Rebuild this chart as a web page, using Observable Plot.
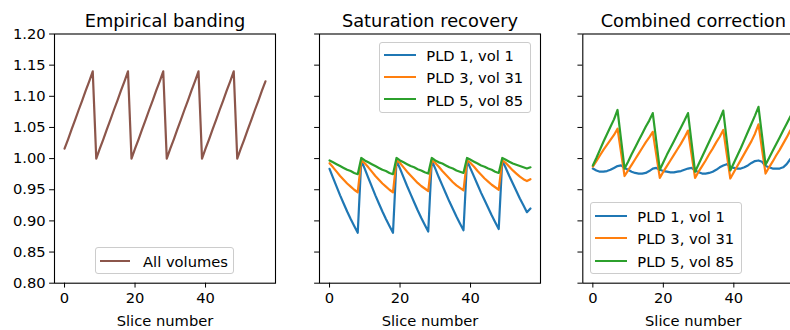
<!DOCTYPE html>
<html>
<head>
<meta charset="utf-8">
<script src="https://cdn.jsdelivr.net/npm/d3@7"></script>
<script src="https://cdn.jsdelivr.net/npm/@observablehq/plot@0.6"></script>
<style>
  html, body { margin: 0; padding: 0; background: #fff; }
  #root { position: relative; width: 790px; height: 330px; overflow: hidden; background: #fff; font-family: "DejaVu Sans", sans-serif; }
  .panel { position: absolute; top: 0; }
  .legend { position: absolute; box-sizing: border-box; border: 1px solid rgb(204,204,204); border-radius: 3px; background: rgba(255,255,255,0.8); }
  .lg-line { position: absolute; height: 2.2px; }
  .lg-text { position: absolute; font-size: 14.7px; line-height: 17px; color: #000; white-space: nowrap; }
</style>
</head>
<body>
<div id="root"></div>
<script>
// ---------- data ----------
const slices = [0,1,2,3,4,5,6,7,8,9,10,11,12,13,14,15,16,17,18,19,20,21,22,23,24,25,26,27,28,29,
  30,31,32,33,34,35,36,37,38,39,40,41,42,43,44,45,46,47,48,49,50,51,52,53,54,55,56,57];

const titles = ["Empirical banding", "Saturation recovery", "Combined correction"];
const xLabel = "Slice number";
const xTicks = [0, 20, 40];
const yTicks = [0.80, 0.85, 0.90, 0.95, 1.00, 1.05, 1.10, 1.15, 1.20];

const seriesNames = ["PLD 1, vol 1", "PLD 3, vol 31", "PLD 5, vol 85"];
const bandingName = "All volumes";

// Panel 1: empirical banding (all volumes)
const banding = [
  1.016, 1.031, 1.047, 1.062, 1.078, 1.093, 1.109, 1.124, 1.140,
  1.000, 1.016, 1.031, 1.047, 1.062, 1.078, 1.093, 1.109, 1.124, 1.140,
  1.000, 1.016, 1.031, 1.047, 1.062, 1.078, 1.093, 1.109, 1.124, 1.140,
  1.000, 1.016, 1.031, 1.047, 1.062, 1.078, 1.093, 1.109, 1.124, 1.140,
  1.000, 1.016, 1.031, 1.047, 1.062, 1.078, 1.093, 1.109, 1.124, 1.140,
  1.000, 1.016, 1.031, 1.047, 1.062, 1.078, 1.093, 1.109, 1.124
];

// Panel 2: saturation recovery
const satPld1 = [
  0.9835, 0.969, 0.955, 0.941, 0.928, 0.915, 0.903, 0.892, 0.881,
  0.997, 0.9835, 0.969, 0.955, 0.941, 0.928, 0.915, 0.903, 0.892, 0.881,
  0.997, 0.984, 0.970, 0.956, 0.943, 0.930, 0.917, 0.905, 0.894, 0.883,
  0.997, 0.984, 0.970, 0.957, 0.944, 0.931, 0.919, 0.907, 0.896, 0.885,
  0.997, 0.984, 0.971, 0.958, 0.945, 0.933, 0.921, 0.909, 0.898, 0.887,
  0.997, 0.985, 0.972, 0.960, 0.948, 0.936, 0.925, 0.914, 0.920
];
const satPld3 = [
  0.9925, 0.986, 0.979, 0.972, 0.966, 0.960, 0.955, 0.950, 0.946,
  0.997, 0.9925, 0.986, 0.979, 0.972, 0.966, 0.960, 0.955, 0.950, 0.946,
  0.997, 0.993, 0.986, 0.979, 0.973, 0.967, 0.961, 0.956, 0.952, 0.948,
  0.997, 0.993, 0.987, 0.980, 0.974, 0.968, 0.962, 0.957, 0.953, 0.949,
  0.997, 0.993, 0.987, 0.980, 0.974, 0.968, 0.963, 0.958, 0.954, 0.950,
  0.997, 0.993, 0.987, 0.981, 0.976, 0.971, 0.967, 0.964, 0.967
];
const satPld5 = [
  0.997, 0.994, 0.991, 0.988, 0.985, 0.982, 0.980, 0.977, 0.975,
  1.001, 0.997, 0.994, 0.991, 0.988, 0.985, 0.982, 0.980, 0.977, 0.975,
  1.001, 0.997, 0.994, 0.991, 0.988, 0.986, 0.983, 0.981, 0.978, 0.976,
  1.001, 0.997, 0.994, 0.992, 0.989, 0.986, 0.984, 0.981, 0.979, 0.977,
  1.001, 0.998, 0.995, 0.992, 0.989, 0.987, 0.984, 0.982, 0.979, 0.977,
  1.001, 0.998, 0.995, 0.992, 0.990, 0.988, 0.986, 0.984, 0.986
];

// Panel 3: combined correction
const combPld1 = [
  0.984, 0.981, 0.979, 0.979, 0.980, 0.982, 0.985, 0.988, 0.989,
  0.985, 0.982, 0.979, 0.977, 0.976, 0.976, 0.977, 0.980, 0.984, 0.985,
  0.982, 0.980, 0.979, 0.978, 0.978, 0.979, 0.980, 0.982, 0.984, 0.985,
  0.981, 0.978, 0.976, 0.976, 0.977, 0.979, 0.982, 0.986, 0.989, 0.991,
  0.987, 0.985, 0.984, 0.984, 0.986, 0.989, 0.993, 0.996, 0.997, 0.995,
  0.988, 0.986, 0.984, 0.984, 0.984, 0.986, 0.991, 0.999, 1.006
];
const combPld3 = [
  0.987, 0.996, 1.005, 1.014, 1.022, 1.030, 1.038, 1.048, 1.010,
  0.972, 0.981, 0.990, 0.999, 1.008, 1.017, 1.026, 1.034, 1.043, 1.006,
  0.969, 0.979, 0.988, 0.997, 1.006, 1.015, 1.024, 1.034, 1.045, 1.007,
  0.969, 0.979, 0.988, 0.997, 1.007, 1.016, 1.026, 1.035, 1.046, 1.007,
  0.968, 0.978, 0.988, 0.998, 1.008, 1.018, 1.028, 1.040, 1.055, 1.015,
  0.976, 0.986, 0.995, 1.005, 1.014, 1.024, 1.034, 1.045, 1.053
];
const combPld5 = [
  0.989, 1.001, 1.014, 1.027, 1.039, 1.051, 1.063, 1.078, 1.031,
  0.984, 0.995, 1.007, 1.018, 1.029, 1.040, 1.051, 1.061, 1.073, 1.028,
  0.982, 0.994, 1.006, 1.017, 1.028, 1.039, 1.050, 1.061, 1.073, 1.026,
  0.979, 0.991, 1.003, 1.015, 1.027, 1.039, 1.051, 1.063, 1.077, 1.029,
  0.981, 0.993, 1.005, 1.017, 1.030, 1.043, 1.056, 1.069, 1.083, 1.037,
  0.990, 1.001, 1.012, 1.023, 1.034, 1.045, 1.056, 1.067, 1.078
];

const colors = ["#1f77b4", "#ff7f0e", "#2ca02c"];
const bandingColor = "#8c564b";

// ---------- layout ----------
const W = 221, H = 330, mTop = 33.5, mBottom = 47.3;
const xDomain = [-2.85, 59.85];
const yDomain = [0.8, 1.2];
const root = document.getElementById("root");

function table(values, name) {
  return slices.map((s, i) => ({slice: s, value: values[i], series: name}));
}

function makePanel({left, marginLeft, title, data, strokes, showYLabels}) {
  const width = marginLeft + W + 6;
  const marks = [
    Plot.frame({stroke: "#000", strokeWidth: 1.1}),
    ...data.map((d, i) => Plot.line(d, {x: "slice", y: "value", stroke: strokes[i], strokeWidth: 2.2, strokeLinejoin: "round"})),
    Plot.text([title], {text: d => d, frameAnchor: "top", dy: -7.3, lineAnchor: "bottom", fontSize: 17.8, fill: "#000"}),
    Plot.text([xLabel], {text: d => d, frameAnchor: "bottom", dy: 42.5, lineAnchor: "bottom", fontSize: 14.7, fill: "#000"})
  ];
  const svg = Plot.plot({
    width, height: H,
    marginLeft, marginRight: 6, marginTop: mTop, marginBottom: mBottom,
    style: {fontFamily: "DejaVu Sans", fontSize: "14.7px", color: "#000", background: "transparent", overflow: "visible", maxWidth: "none"},
    x: {domain: xDomain, ticks: xTicks, tickSize: 4.86, tickPadding: 4.4, label: null, tickFormat: d3.format("d")},
    y: {domain: yDomain, ticks: yTicks, tickSize: 4.86, tickPadding: 4.0, label: null,
        tickFormat: showYLabels ? d3.format(".2f") : () => ""},
    marks
  });
  svg.classList.add("panel");
  svg.style.left = left + "px";
  svg.style.position = "absolute";
  root.appendChild(svg);
}

makePanel({left: 0, marginLeft: 54, title: titles[0], data: [table(banding, bandingName)], strokes: [bandingColor], showYLabels: true});
makePanel({left: 280, marginLeft: 39, title: titles[1],
  data: [table(satPld1, seriesNames[0]), table(satPld3, seriesNames[1]), table(satPld5, seriesNames[2])],
  strokes: colors, showYLabels: false});
makePanel({left: 545, marginLeft: 37.3, title: titles[2],
  data: [table(combPld1, seriesNames[0]), table(combPld3, seriesNames[1]), table(combPld5, seriesNames[2])],
  strokes: colors, showYLabels: false});

// ---------- legends (HTML overlay) ----------
function legend({left, top, width, height, lineX0, lineX1, textX, rows}) {
  const box = document.createElement("div");
  box.className = "legend";
  Object.assign(box.style, {left: left + "px", top: top + "px", width: width + "px", height: height + "px"});
  root.appendChild(box);
  rows.forEach(r => {
    const ln = document.createElement("div");
    ln.className = "lg-line";
    Object.assign(ln.style, {left: lineX0 + "px", top: (r.cy - 1.1) + "px", width: (lineX1 - lineX0) + "px", background: r.color});
    root.appendChild(ln);
    const tx = document.createElement("div");
    tx.className = "lg-text";
    tx.textContent = r.label;
    Object.assign(tx.style, {left: textX + "px", top: (r.cy - 7.9) + "px"});
    root.appendChild(tx);
  });
}

legend({left: 95, top: 247.3, width: 139.3, height: 26.7, lineX0: 100, lineX1: 130, textX: 143,
  rows: [{label: bandingName, color: bandingColor, cy: 261}]});
legend({left: 379, top: 41.7, width: 151.7, height: 71.6, lineX0: 384, lineX1: 416, textX: 426.3,
  rows: seriesNames.map((n, i) => ({label: n, color: colors[i], cy: 55 + 22.2 * i}))});
legend({left: 590, top: 201.7, width: 151.7, height: 72.3, lineX0: 595, lineX1: 627.3, textX: 637.3,
  rows: seriesNames.map((n, i) => ({label: n, color: colors[i], cy: 216 + 22.3 * i}))});
</script>
</body>
</html>
